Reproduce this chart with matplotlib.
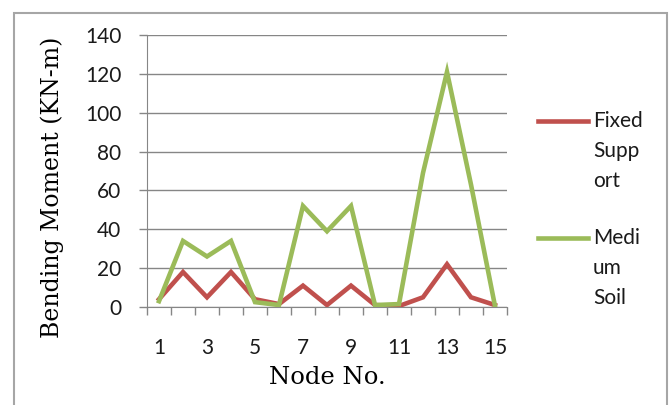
import matplotlib
matplotlib.use("Agg")
import matplotlib.pyplot as plt
from matplotlib.patches import Rectangle
from matplotlib.lines import Line2D

# bending moment along the pile nodes
nodes = list(range(1, 16))
fixed_support = [4, 18, 5, 18, 4, 1.5, 11, 1, 11, 1, 0.5, 5, 22, 5, 1]
medium_soil = [3, 34, 26, 34, 2.5, 1, 52, 39, 52, 1, 1.5, 69, 121, 63, 0.5]
yticks = [0, 20, 40, 60, 80, 100, 120, 140]
xticks = [1, 3, 5, 7, 9, 11, 13, 15]

red = "#C0504D"
green = "#9BBB59"
grey = "#868686"

W, H = 672, 405
fig = plt.figure(figsize=(W / 100, H / 100), dpi=100)

# outer chart frame
fig.patches.append(Rectangle((14 / W, -0.05), (667 - 14) / W, 1.05 - 13 / H,
                             transform=fig.transFigure, fill=False,
                             edgecolor="#a6a6a6", lw=1.5))

ax = fig.add_axes([147 / W, 1 - 307 / H, (507 - 147) / W, (307 - 35) / H])
ax.plot(nodes, fixed_support, color=red, lw=3.3, solid_joinstyle="miter", zorder=3)
ax.plot(nodes, medium_soil, color=green, lw=3.3, solid_joinstyle="miter", zorder=3)

ax.set_xlim(0.5, 15.5)
ax.set_ylim(0, 140)
ax.set_yticks(yticks)
ax.yaxis.grid(True, color=grey, lw=1)
ax.set_axisbelow(True)

ax.set_xticks(xticks)
ax.set_xticks([n + 0.5 for n in range(0, 16)], minor=True)
ax.tick_params(axis="x", which="major", length=0, pad=22)
ax.tick_params(axis="x", which="minor", length=5.5, color=grey, width=1)
ax.tick_params(axis="y", length=5.5, color=grey, width=1, pad=13)
for lab in ax.get_xticklabels() + ax.get_yticklabels():
    lab.set_fontfamily("Lato")
    lab.set_fontsize(15)
    lab.set_color("#1a1a1a")

for side in ("top", "right"):
    ax.spines[side].set_visible(False)
ax.spines["left"].set_color(grey)
ax.spines["bottom"].set_color(grey)

fig.text(327 / W, 1 - 378 / H, "Node No.", family="DejaVu Serif", fontsize=17.5,
         ha="center", va="center")
fig.text(52 / W, 1 - 187 / H, "Bending Moment (KN-m)", family="DejaVu Serif",
         fontsize=17, rotation=90, ha="center", va="center")

# legend drawn by hand, entries wrap in three short lines
for color, ys, words in [(red, 121, ["Fixed", "Supp", "ort"]),
                         (green, 238, ["Medi", "um", "Soil"])]:
    fig.add_artist(Line2D([538 / W, 588 / W], [1 - ys / H, 1 - ys / H],
                          color=color, lw=3.3, transform=fig.transFigure))
    for i, w in enumerate(words):
        fig.text(593 / W, 1 - (ys + 30 * i) / H, w, family="Lato", fontsize=15,
                 color="#1a1a1a", ha="left", va="center")

fig.savefig("out.png", dpi=100)
